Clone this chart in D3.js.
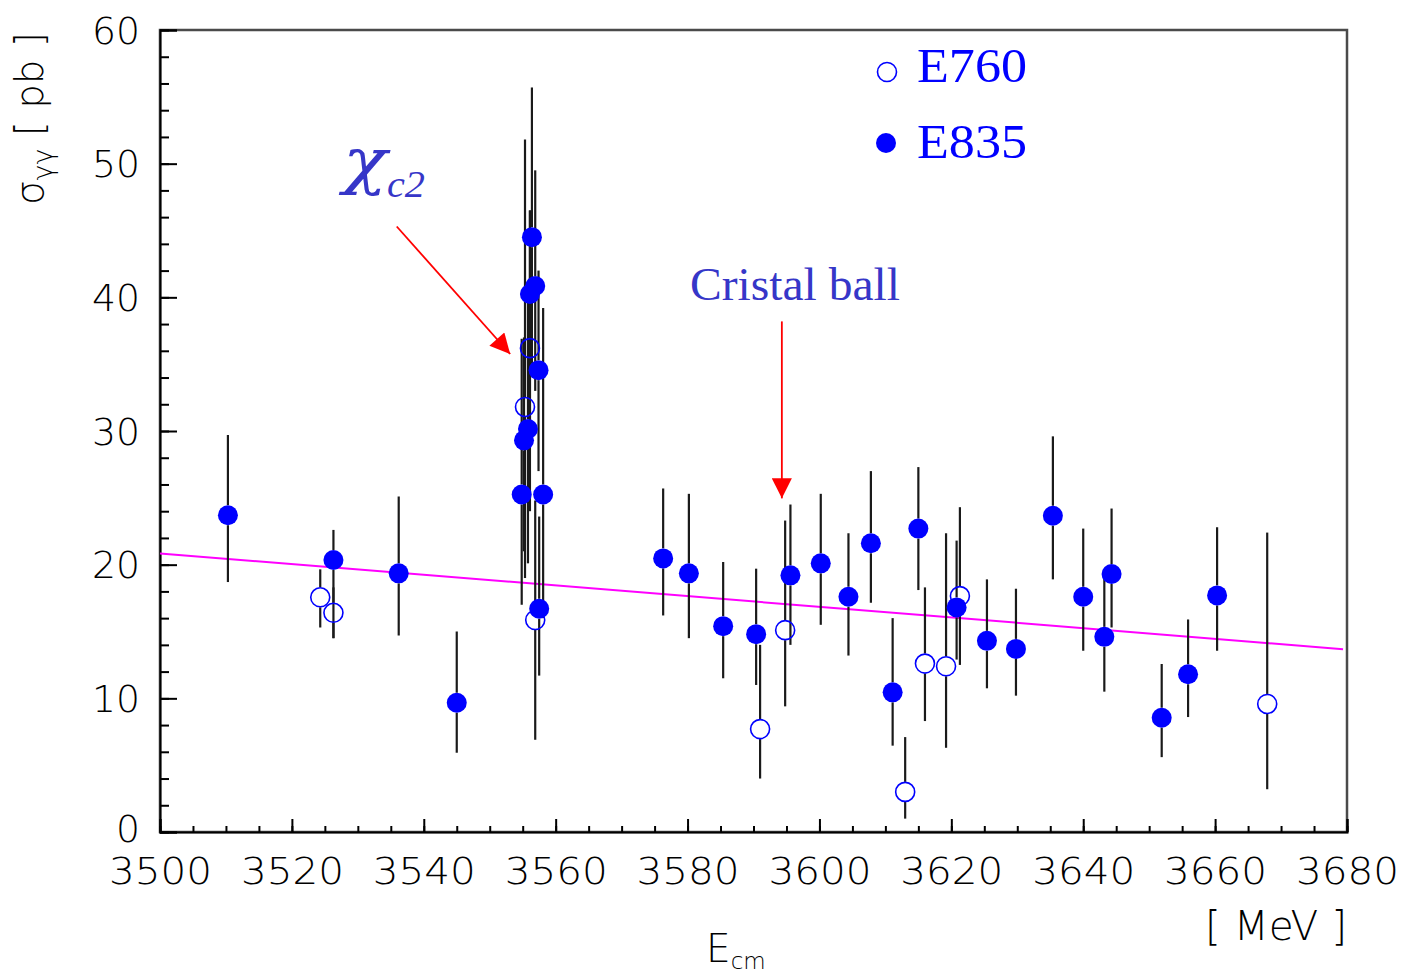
<!DOCTYPE html>
<html>
<head>
<meta charset="utf-8">
<script src="https://cdn.jsdelivr.net/npm/d3@7"></script>
<style>
  html, body { margin: 0; padding: 0; background: #fff; }
  svg { display: block; }
</style>
</head>
<body>
<svg id="chart" width="1419" height="978"></svg>
<script>
// ---------------- DATA ----------------
// E835 (filled markers): energy [MeV], cross-section [pb], lower / upper error-bar ends [pb]
const e835Energy = [3510.3, 3526.3, 3536.2, 3545.0, 3554.85, 3555.2, 3555.8, 3556.1, 3556.4, 3556.9, 3557.4, 3557.5, 3558.1,
                    3576.3, 3580.2, 3585.4, 3590.4, 3595.6, 3600.2, 3604.4, 3607.8, 3611.1, 3615.0, 3620.8, 3625.4,
                    3629.8, 3635.4, 3640.0, 3643.2, 3644.3, 3651.9, 3655.9, 3660.3];
const e835Sigma  = [23.7, 20.35, 19.35, 9.67, 25.25, 29.3, 30.15, 40.25, 44.5, 40.85, 34.55, 16.7, 25.25,
                    20.47, 19.35, 15.4, 14.8, 19.2, 20.1, 17.6, 21.6, 10.45, 22.7, 16.8, 14.3,
                    13.7, 23.66, 17.6, 14.6, 19.3, 8.55, 11.8, 17.7];
const e835Low    = [18.7, 14.5, 14.7, 5.93, 17.0, 21.0, 20.1, 29.0, 35.0, 33.0, 27.0, 11.7, 16.0,
                    16.2, 14.5, 11.5, 11.0, 14.0, 15.5, 13.2, 17.15, 6.46, 18.1, 12.9, 10.75,
                    10.2, 18.9, 13.56, 10.5, 15.3, 5.6, 8.6, 13.56];
const e835High   = [29.7, 22.6, 25.1, 15.0, 36.9, 37.0, 40.0, 46.5, 55.7, 49.5, 42.0, 23.6, 39.2,
                    25.7, 25.3, 20.2, 19.7, 24.5, 25.3, 22.35, 27.0, 16.0, 27.3, 21.8, 18.9,
                    18.2, 29.6, 22.7, 19.3, 24.2, 12.57, 15.9, 22.8];

// E760 (open markers)
const e760Energy = [3524.3, 3526.3, 3555.35, 3556.1, 3556.9, 3591.0, 3594.8, 3613.0, 3616.0, 3619.2, 3621.3, 3667.9];
const e760Sigma  = [17.56, 16.4, 31.8, 36.2, 15.86, 7.7, 15.1, 3.0, 12.6, 12.4, 17.65, 9.58];
const e760Low    = [15.3, 14.5, 19.0, 24.0, 6.9, 4.0, 9.4, 1.0, 8.3, 6.3, 12.5, 3.2];
const e760High   = [19.65, 18.3, 51.8, 46.5, 24.8, 14.0, 23.3, 7.1, 18.3, 22.35, 24.3, 22.4];

// Linear background fit (end points)
const fitEnergy = [3500, 3679.4];
const fitSigma  = [20.84, 13.68];

// Axis ticks
const xMajorTicks = [3500, 3520, 3540, 3560, 3580, 3600, 3620, 3640, 3660, 3680];
const xMinorTicks = d3.range(3500, 3681, 5);
const yMajorTicks = [0, 10, 20, 30, 40, 50, 60];
const yMinorTicks = d3.range(0, 61, 2);

// Annotations
const legendNames = ["E760", "E835"];
const cbArrowEnergy = 3594.3;          // "Cristal ball" arrow position
const cbArrowRange = [38.2, 24.96];    // from / to (pb)
const chiArrowFrom = [3535.9, 45.3];   // chi_c2 arrow (E, sigma)
const chiArrowTo   = [3553.1, 35.76];

// ---------------- DRAW ----------------
const svg = d3.select("#chart");
svg.append("rect").attr("width", 1419).attr("height", 978).attr("fill", "#fff");

const x = d3.scaleLinear().domain([3500, 3680]).range([160, 1347]);
const y = d3.scaleLinear().domain([0, 60]).range([832, 30]);

const tickFont = "'DejaVu Sans', 'Liberation Sans', sans-serif";
const serif = "'Liberation Serif', 'Times New Roman', serif";

// Frame
svg.append("rect")
  .attr("x", x(3500)).attr("y", y(60))
  .attr("width", x(3680) - x(3500)).attr("height", y(0) - y(60))
  .attr("fill", "none").attr("stroke", "#4a4a4a").attr("stroke-width", 2.5);

// X axis: minor ticks
svg.append("g").attr("transform", `translate(0,${y(0)})`)
  .call(d3.axisBottom(x).tickValues(xMinorTicks).tickSize(-6).tickFormat(""))
  .call(g => g.select(".domain").remove())
  .call(g => g.selectAll("line").attr("stroke", "#000").attr("stroke-width", 2));

// X axis: major ticks + labels
const xAx = svg.append("g").attr("transform", `translate(0,${y(0)})`)
  .call(d3.axisBottom(x).tickValues(xMajorTicks).tickSize(-13).tickFormat(d3.format("d")));
xAx.select(".domain").attr("stroke", "#000").attr("stroke-width", 2);
xAx.selectAll("line").attr("stroke", "#000").attr("stroke-width", 2);
xAx.selectAll("text")
  .attr("y", 52).attr("dy", 0)
  .attr("font-size", 37).attr("font-family", tickFont).attr("font-weight", 200)
  .attr("fill", "#000")
  .attr("textLength", 103).attr("lengthAdjust", "spacingAndGlyphs");

// Y axis: minor
svg.append("g").attr("transform", `translate(${x(3500)},0)`)
  .call(d3.axisLeft(y).tickValues(yMinorTicks).tickSize(-9).tickFormat(""))
  .call(g => g.select(".domain").remove())
  .call(g => g.selectAll("line").attr("stroke", "#000").attr("stroke-width", 2));

// Y axis: major
const yAx = svg.append("g").attr("transform", `translate(${x(3500)},0)`)
  .call(d3.axisLeft(y).tickValues(yMajorTicks).tickSize(-17).tickFormat(d3.format("d")));
yAx.select(".domain").attr("stroke", "#000").attr("stroke-width", 2);
yAx.selectAll("line").attr("stroke", "#000").attr("stroke-width", 2);
yAx.selectAll("text")
  .attr("x", -20).attr("dy", "0.36em")
  .attr("y", d => d === 0 ? -4 : 0)
  .attr("font-size", 37).attr("font-family", tickFont).attr("font-weight", 200)
  .attr("fill", "#000")
  .attr("textLength", d => String(d).length * 24).attr("lengthAdjust", "spacingAndGlyphs");

// Axis titles
const yTitle = svg.append("text")
  .attr("transform", `translate(43,205) rotate(-90)`)
  .attr("font-family", tickFont).attr("font-weight", 200).attr("font-size", 39).attr("fill", "#000")
  .attr("textLength", 173).attr("lengthAdjust", "spacingAndGlyphs");
yTitle.append("tspan").text("σ");
yTitle.append("tspan").attr("font-size", 27).attr("dy", 9).text("γγ");
yTitle.append("tspan").attr("dy", -9).text(" [ pb ]");

const xTitle = svg.append("text")
  .attr("x", 706).attr("y", 962)
  .attr("font-family", tickFont).attr("font-weight", 200).attr("font-size", 39).attr("fill", "#000");
xTitle.append("tspan").text("E");
xTitle.append("tspan").attr("font-size", 23).attr("dy", 7).text("cm");

svg.append("text")
  .attr("x", 1347).attr("y", 940).attr("text-anchor", "end")
  .attr("font-family", tickFont).attr("font-weight", 200).attr("font-size", 40).attr("fill", "#000")
  .attr("textLength", 142).attr("lengthAdjust", "spacingAndGlyphs")
  .text("[ MeV ]");

// Fit line
svg.append("line")
  .attr("x1", x(fitEnergy[0])).attr("y1", y(fitSigma[0]))
  .attr("x2", x(fitEnergy[1])).attr("y2", y(fitSigma[1]))
  .attr("stroke", "#ff00ff").attr("stroke-width", 2);

const R = 10;
const e835 = e835Energy.map((e, i) => ({ e, s: e835Sigma[i], lo: e835Low[i], hi: e835High[i] }));
const e760 = e760Energy.map((e, i) => ({ e, s: e760Sigma[i], lo: e760Low[i], hi: e760High[i] }));

function drawBars(data) {
  const g = svg.append("g").attr("stroke", "#1a1a1a").attr("stroke-width", 2.2);
  data.forEach(d => {
    const cx = x(d.e), cy = y(d.s);
    g.append("line").attr("x1", cx).attr("x2", cx).attr("y1", y(d.hi)).attr("y2", Math.min(cy - R, y(d.lo)));
    g.append("line").attr("x1", cx).attr("x2", cx).attr("y1", Math.max(cy + R, y(d.hi))).attr("y2", y(d.lo));
  });
}
drawBars(e760);
drawBars(e835);

svg.append("g").selectAll("circle").data(e760).join("circle")
  .attr("cx", d => x(d.e)).attr("cy", d => y(d.s)).attr("r", R - 0.5)
  .attr("fill", "none").attr("stroke", "#0000ff").attr("stroke-width", 1.6);

svg.append("g").selectAll("circle").data(e835).join("circle")
  .attr("cx", d => x(d.e)).attr("cy", d => y(d.s)).attr("r", R)
  .attr("fill", "#0000ff");

// Legend
const legY = [72, 143];
const legBase = [82, 158];
svg.append("circle").attr("cx", 887).attr("cy", legY[0]).attr("r", R - 0.5)
  .attr("fill", "none").attr("stroke", "#0000ff").attr("stroke-width", 1.6);
svg.append("circle").attr("cx", 886).attr("cy", legY[1]).attr("r", R).attr("fill", "#0000ff");
legendNames.forEach((n, i) => {
  svg.append("text").attr("x", 917).attr("y", legBase[i])
    .attr("font-family", serif).attr("font-size", 48)
    .attr("textLength", 110).attr("lengthAdjust", "spacingAndGlyphs")
    .attr("fill", "#0000ff").text(n);
});

// Annotations
const annColor = "#3636c8";
svg.append("text").attr("x", 690).attr("y", 300)
  .attr("font-family", serif).attr("font-size", 47)
  .attr("textLength", 210).attr("lengthAdjust", "spacingAndGlyphs")
  .attr("fill", annColor).text("Cristal ball");

svg.append("text").attr("x", 343).attr("y", 182)
  .attr("font-family", "'DejaVu Serif', serif").attr("font-style", "italic")
  .attr("font-size", 62).attr("fill", annColor)
  .attr("textLength", 44).attr("lengthAdjust", "spacingAndGlyphs")
  .text("χ");
svg.append("text").attr("x", 387).attr("y", 197)
  .attr("font-family", serif).attr("font-style", "italic")
  .attr("font-size", 38).attr("fill", annColor)
  .attr("textLength", 38).attr("lengthAdjust", "spacingAndGlyphs")
  .text("c2");

// Arrows
const defs = svg.append("defs");
defs.append("marker").attr("id", "arr").attr("viewBox", "0 0 10 10")
  .attr("refX", 10).attr("refY", 5).attr("markerWidth", 21).attr("markerHeight", 20)
  .attr("markerUnits", "userSpaceOnUse").attr("orient", "auto")
  .append("path").attr("d", "M0,0 L10,5 L0,10 Z").attr("fill", "#ff0000");

svg.append("line")
  .attr("x1", x(cbArrowEnergy)).attr("y1", y(cbArrowRange[0]))
  .attr("x2", x(cbArrowEnergy)).attr("y2", y(cbArrowRange[1]))
  .attr("stroke", "#ff0000").attr("stroke-width", 1.8).attr("marker-end", "url(#arr)");

svg.append("line")
  .attr("x1", x(chiArrowFrom[0])).attr("y1", y(chiArrowFrom[1]))
  .attr("x2", x(chiArrowTo[0])).attr("y2", y(chiArrowTo[1]))
  .attr("stroke", "#ff0000").attr("stroke-width", 1.8).attr("marker-end", "url(#arr)");
</script>
</body>
</html>
